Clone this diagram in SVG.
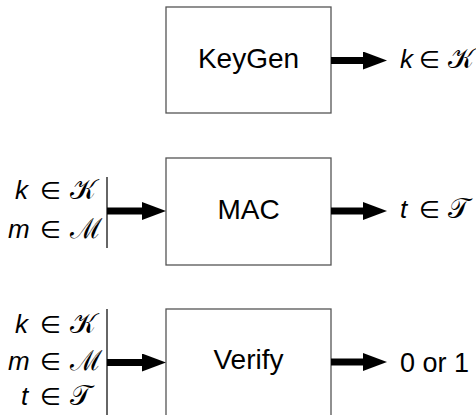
<svg xmlns="http://www.w3.org/2000/svg" width="476" height="415" viewBox="0 0 476 415">
<style>
.box{fill:#fff;stroke:#555;stroke-width:1.3}
.lbl{font-family:"Liberation Sans",Arial,sans-serif;font-size:28px;fill:#000;text-anchor:middle}
.math{font-family:"Liberation Sans",Arial,sans-serif;font-size:26px;fill:#000}
.v{font-style:italic}
.op{font-family:"DejaVu Sans",sans-serif;font-size:24px}
.cal{font-family:"DejaVu Serif","Noto Sans",serif;font-size:28px}
.num{font-family:"Liberation Sans",Arial,sans-serif;font-size:27px;fill:#000}
.arr{stroke:#000;stroke-width:7;fill:none;marker-end:url(#ah)}
.bar{stroke:#333;stroke-width:1.5}
</style>
<defs>
<marker id="ah" markerUnits="userSpaceOnUse" markerWidth="24" markerHeight="18" refX="0" refY="9" orient="auto" viewBox="0 0 24 18">
<path d="M0,0 L24,9 L0,18 z" fill="#000"/>
</marker>
</defs>
<g id="keygen">
<rect class="box" x="166" y="7" width="165" height="106"/>
<text class="lbl" x="248.5" y="68">KeyGen</text>
</g>
<g id="mac">
<rect class="box" x="166" y="158" width="165" height="107"/>
<text class="lbl" x="248.5" y="219">MAC</text>
</g>
<g id="verify">
<rect class="box" x="166" y="309" width="165" height="107"/>
<text class="lbl" x="248.5" y="369">Verify</text>
</g>
<g id="keygen-out">
<text class="math" y="68"><tspan class="v" x="400">k</tspan><tspan class="op" x="419">∈</tspan><tspan class="cal" x="448">𝒦</tspan></text>
</g>
<g id="mac-in">
<line class="bar" x1="107" y1="177" x2="107" y2="248"/>
<text class="math" y="199"><tspan class="v" x="15">k</tspan><tspan class="op" x="40">∈</tspan><tspan class="cal" x="70">𝒦</tspan></text>
<text class="math" y="238"><tspan class="v" x="8">m</tspan><tspan class="op" x="40">∈</tspan><tspan class="cal" x="70">ℳ</tspan></text>
</g>
<g id="mac-out">
<text class="math" y="218"><tspan class="v" x="400">t</tspan><tspan class="op" x="419">∈</tspan><tspan class="cal" x="448">𝒯</tspan></text>
</g>
<g id="verify-in">
<line class="bar" x1="107" y1="309" x2="107" y2="415"/>
<text class="math" y="333"><tspan class="v" x="15">k</tspan><tspan class="op" x="40">∈</tspan><tspan class="cal" x="70">𝒦</tspan></text>
<text class="math" y="370"><tspan class="v" x="8">m</tspan><tspan class="op" x="40">∈</tspan><tspan class="cal" x="70">ℳ</tspan></text>
<text class="math" y="405"><tspan class="v" x="21">t</tspan><tspan class="op" x="40">∈</tspan><tspan class="cal" x="70">𝒯</tspan></text>
</g>
<g id="verify-out">
<text class="num" x="400" y="372">0 or 1</text>
</g>
<g id="connectors">
<line class="arr" x1="331" y1="60.5" x2="363" y2="60.5"/>
<line class="arr" x1="107" y1="211" x2="142" y2="211"/>
<line class="arr" x1="331" y1="211" x2="363" y2="211"/>
<line class="arr" x1="107" y1="362.5" x2="142" y2="362.5"/>
<line class="arr" x1="331" y1="362" x2="363" y2="362"/>
</g>
</svg>
